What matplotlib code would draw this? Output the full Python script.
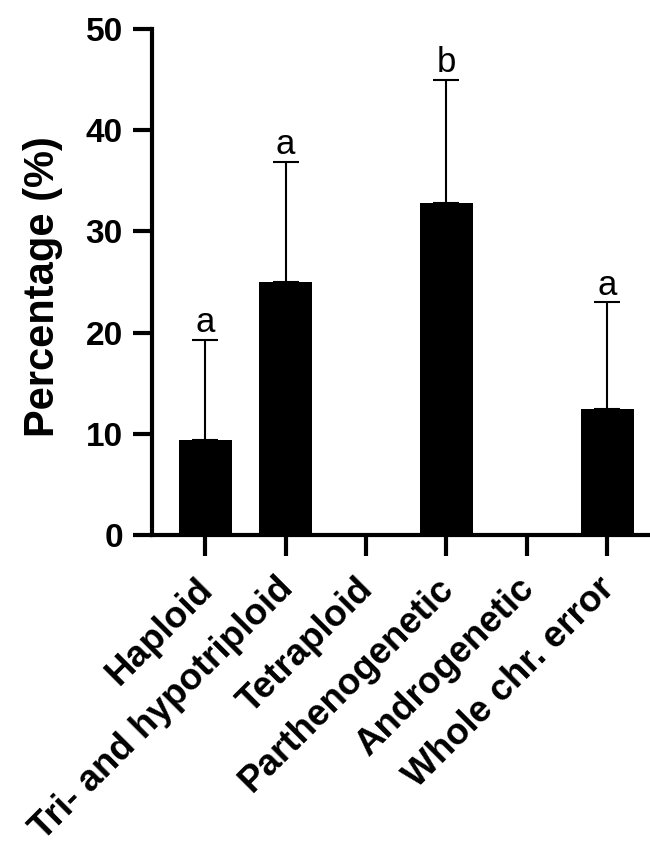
import numpy as np
import matplotlib
matplotlib.use('Agg')
import matplotlib.pyplot as plt
from matplotlib.transforms import ScaledTranslation

plt.rcParams['font.family'] = ['Liberation Sans', 'DejaVu Sans']

# data
categories = ['Haploid', 'Tri- and hypotriploid', 'Tetraploid',
              'Parthenogenetic', 'Androgenetic', 'Whole chr. error']
means = [9.4, 25.0, 0.0, 32.8, 0.0, 12.5]
sd_upper = [9.9, 11.9, 0.0, 12.2, 0.0, 10.5]
letters = ['a', 'a', '', 'b', '', 'a']

x = np.arange(len(categories))

fig = plt.figure(figsize=(6.5, 8.47), dpi=100)
ax = fig.add_axes([152/650, 1 - 535/847, 1 - 152/650, (535 - 29)/847])

ax.bar(x, means, width=0.66, color='black', zorder=3)

# upper error bars only, skip empty groups
has_err = [i for i in range(len(x)) if sd_upper[i] > 0]
ax.errorbar(x[has_err], [means[i] for i in has_err],
            yerr=[[0]*len(has_err), [sd_upper[i] for i in has_err]],
            fmt='none', ecolor='black', elinewidth=1.5, capsize=9.5,
            capthick=1.5, zorder=2)

for i in has_err:
    ax.text(x[i], means[i] + sd_upper[i] + 0.75, letters[i], ha='center',
            va='baseline', fontsize=25)

ax.set_xlim(-0.66, 5.53)
ax.set_ylim(0, 50)
ax.set_yticks([0, 10, 20, 30, 40, 50])
ax.set_xticks(x)
ax.set_xticklabels(categories, rotation=45, ha='right', rotation_mode='anchor',
                   fontsize=26.5, fontweight='bold')
for lab in ax.get_yticklabels():
    lab.set_fontweight('bold')
ax.tick_params(axis='y', labelsize=24, width=3, length=14, pad=7)
ax.tick_params(axis='x', width=3, length=15, pad=9)

# nudge the slanted labels left (after tick_params, which resets transforms)
shift = ScaledTranslation(-10/100, -3/100, fig.dpi_scale_trans)
for lab in ax.get_xticklabels():
    lab.set_transform(lab.get_transform() + shift)

ax.spines['top'].set_visible(False)
ax.spines['right'].set_visible(False)
ax.spines['left'].set_linewidth(3)
ax.spines['bottom'].set_linewidth(3)

ax.set_ylabel('Percentage (%)', fontsize=30, fontweight='bold')
ax.yaxis.set_label_coords(-0.178, 0.49)

fig.savefig('out.png', dpi=100)
